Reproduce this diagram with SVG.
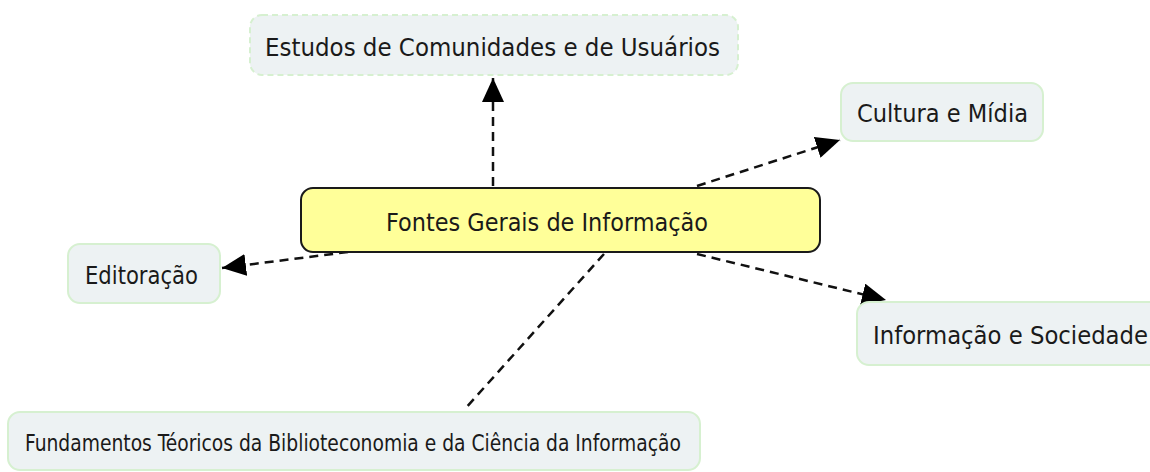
<svg xmlns="http://www.w3.org/2000/svg" width="1150" height="472" viewBox="0 0 1150 472">
<defs>
<style>
.node{fill:#edf2f3;stroke:#d6f0d0;stroke-width:2}
.dash{stroke-dasharray:6 4}
.main{fill:#ffff99;stroke:#1a1a1a;stroke-width:2}
.t{font-family:"DejaVu Sans Condensed","DejaVu Sans",sans-serif;font-size:25px;fill:#1a1a1a}
.s{font-size:22.5px}
.c{stroke:#111;stroke-width:2.5;stroke-dasharray:9 6;fill:none}
</style>
<marker id="ahb" viewBox="0 0 24 22" refX="24" refY="11" markerWidth="24" markerHeight="22" markerUnits="userSpaceOnUse" orient="auto">
<path d="M0,0 L24,11 L0,22 z" fill="#000"/>
</marker>
</defs>
<rect width="1150" height="472" fill="#fff"/>
<g id="connectors">
<line class="c" x1="493" y1="186" x2="493" y2="78" marker-end="url(#ahb)"/>
<line class="c" x1="697" y1="186" x2="840" y2="140" marker-end="url(#ahb)"/>
<line class="c" x1="348" y1="252" x2="222" y2="268" marker-end="url(#ahb)"/>
<line class="c" x1="697" y1="254" x2="886" y2="300" marker-end="url(#ahb)"/>
<line class="c" x1="604" y1="254" x2="464" y2="410"/>
</g>
<g id="n-estudos">
<rect class="node dash" x="250" y="15" width="488" height="60" rx="12"/>
<text class="t" x="265" y="56" textLength="455" lengthAdjust="spacingAndGlyphs">Estudos de Comunidades e de Usuários</text>
</g>
<g id="n-fontes">
<rect class="main" x="301" y="188" width="519" height="64" rx="12"/>
<text class="t" x="386" y="231" textLength="322" lengthAdjust="spacingAndGlyphs">Fontes Gerais de Informação</text>
</g>
<g id="n-cultura">
<rect class="node" x="841" y="83" width="202" height="58" rx="12"/>
<text class="t" x="857" y="122" textLength="171" lengthAdjust="spacingAndGlyphs">Cultura e Mídia</text>
</g>
<g id="n-editoracao">
<rect class="node" x="68" y="244" width="152" height="59" rx="12"/>
<text class="t" x="85" y="284" textLength="113" lengthAdjust="spacingAndGlyphs">Editoração</text>
</g>
<g id="n-informacao">
<rect class="node" x="857" y="302" width="310" height="63" rx="12"/>
<text class="t" x="873" y="344" textLength="275" lengthAdjust="spacingAndGlyphs">Informação e Sociedade</text>
</g>
<g id="n-fundamentos">
<rect class="node" x="8" y="412" width="692" height="58" rx="12"/>
<text class="t s" x="25" y="451" textLength="656" lengthAdjust="spacingAndGlyphs">Fundamentos Téoricos da Biblioteconomia e da Ciência da Informação</text>
</g>
</svg>
